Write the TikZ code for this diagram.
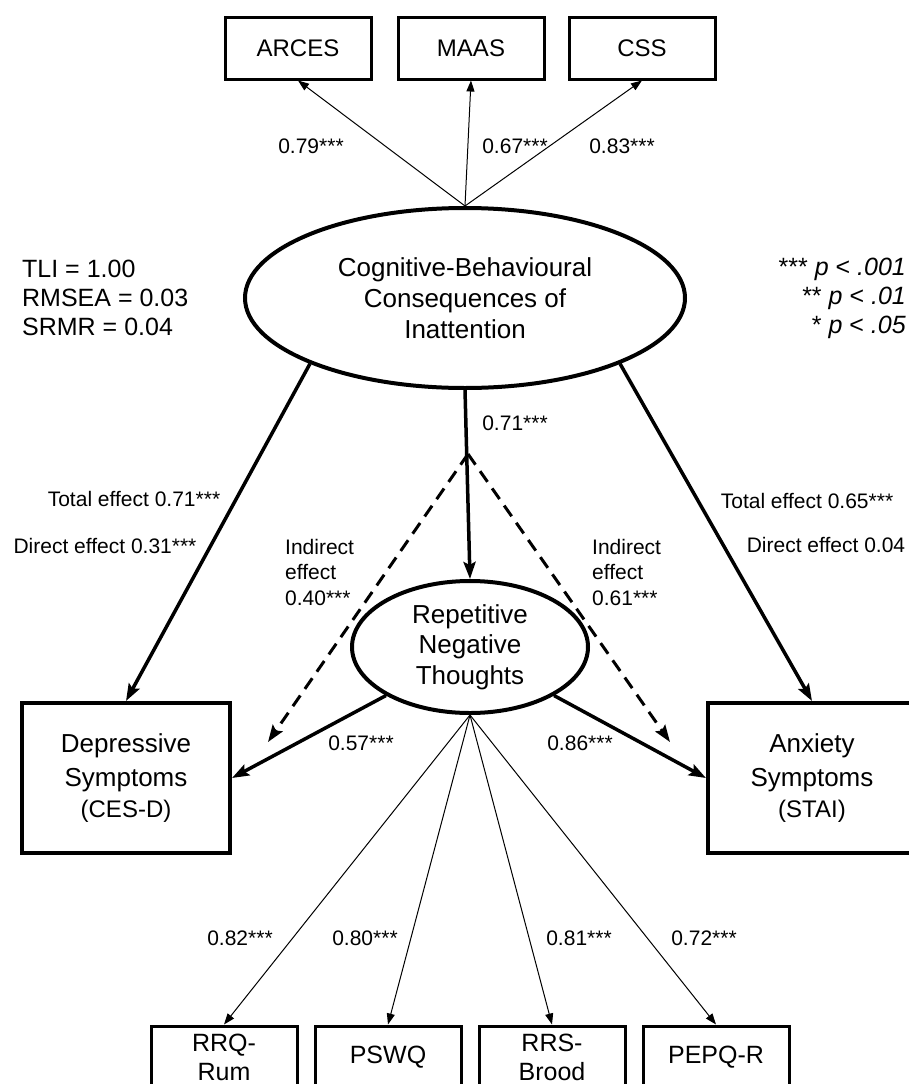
\documentclass[tikz,border=0pt]{standalone}
\usepackage{fontspec}
\setmainfont{Liberation Sans}
\usetikzlibrary{arrows.meta, positioning, shapes.geometric}
\newcommand{\fsz}[2]{\fontsize{#1}{#2}\selectfont}
\tikzset{
  latent/.style={ellipse, draw, line width=4pt, inner sep=0pt, align=center, font=\fsz{26}{31}},
  indicator/.style={rectangle, draw, line width=3pt, minimum width=146pt, minimum height=62pt, inner sep=0pt, align=center, font=\fsz{24}{30}},
  outcome/.style={rectangle, draw, line width=4pt, minimum width=208pt, minimum height=150pt, inner sep=0pt, align=center, font=\fsz{26}{34}},
  coef/.style={inner sep=0pt, font=\fsz{21}{25.5}},
  fitstat/.style={inner sep=0pt, font=\fsz{25}{29}},
  loading/.style={-{Triangle[length=11pt,width=8pt]}, line width=1pt},
  effect/.style={-{Stealth[length=17pt,width=12pt,inset=3pt]}, line width=3.5pt},
  indirect/.style={effect, line width=3pt, dash pattern=on 13pt off 8pt}
}
\begin{document}
\begin{tikzpicture}[x=1pt, y=-1pt]
\useasboundingbox (0,0) rectangle (909,1084);

% latent variables
\node[latent, minimum width=440pt, minimum height=180pt] (cbci) at (465,298) {Cognitive-Behavioural\\Consequences of\\Inattention};
\node[latent, minimum width=236pt, minimum height=132pt, font=\fsz{26}{30.5}] (rnt) at (470,647) {Repetitive\\Negative\\Thoughts};

% indicators of inattention
\node[indicator] (maas) at (471,48) {MAAS};
\node[indicator, left=24pt of maas] (arces) {ARCES};
\node[indicator, right=22pt of maas] (css) {CSS};

% indicators of RNT
\node[indicator, font=\fsz{25}{29}] (rrq) at (224,1057) {RRQ-\\Rum};
\node[indicator, font=\fsz{25}{29}, right=15pt of rrq] (pswq) {PSWQ};
\node[indicator, font=\fsz{25}{29}, right=15pt of pswq] (rrs) {RRS-\\Brood};
\node[indicator, font=\fsz{25}{29}, right=15pt of rrs] (pepq) {PEPQ-R};

% outcomes
\node[outcome] (dep) at (126,778) {Depressive\\Symptoms\\[-3pt]{\fsz{24}{28}(CES-D)}};
\node[outcome] (anx) at (812,778) {Anxiety\\Symptoms\\[-3pt]{\fsz{24}{28}(STAI)}};

% fit and significance
\node[fitstat, align=left, anchor=west] (fit) at (22,298) {TLI = 1.00\\RMSEA = 0.03\\SRMR = 0.04};
\node[fitstat, align=right, anchor=east] (sig) at (906,298) {*** \textit{p} < \textit{.001}\\** \textit{p} < \textit{.01}\\* \textit{p} < \textit{.05}};

% loadings
\foreach \n in {arces,maas,css}
  \draw[loading] (cbci.north) -- (\n.south);
\foreach \n in {rrq,pswq,rrs,pepq}
  \draw[loading] (rnt.south) -- (\n.north);

% structural paths
\draw[effect] (cbci.203) -- (dep.north);
\draw[effect] (cbci.-23) -- (anx.north);
\draw[effect] (cbci.south) -- (rnt.north);
\draw[effect] (rnt.210) -- (dep.east);
\draw[effect] (rnt.-30) -- (anx.west);

% indirect effects
\coordinate (split) at (468,454);
\coordinate (indl) at (268,742);
\coordinate (indr) at (670,742);
\draw[indirect] (split) -- (indl);
\draw[indirect] (split) -- (indr);

% coefficients
\node[coef] (c79) at (311,146) {0.79***};
\node[coef] (c67) at (515,146) {0.67***};
\node[coef] (c83) at (622,146) {0.83***};
\node[coef] (c71) at (515,423) {0.71***};
\node[coef, align=left, anchor=west] (indl-txt) at (285,572) {Indirect\\effect\\0.40***};
\node[coef, align=left, anchor=west] (indr-txt) at (592,572) {Indirect\\effect\\0.61***};
\node[coef] (totl) at (134,499) {Total effect 0.71***};
\node[coef] (dirl) at (105,546) {Direct effect 0.31***};
\node[coef] (totr) at (807,501) {Total effect 0.65***};
\node[coef] (dirr) at (826,545) {Direct effect 0.04};
\node[coef] (c57) at (361,743) {0.57***};
\node[coef] (c86) at (580,743) {0.86***};
\node[coef] (c82) at (240,938) {0.82***};
\node[coef] (c80) at (365,938) {0.80***};
\node[coef] (c81) at (579,938) {0.81***};
\node[coef] (c72) at (704,938) {0.72***};
\end{tikzpicture}
\end{document}
